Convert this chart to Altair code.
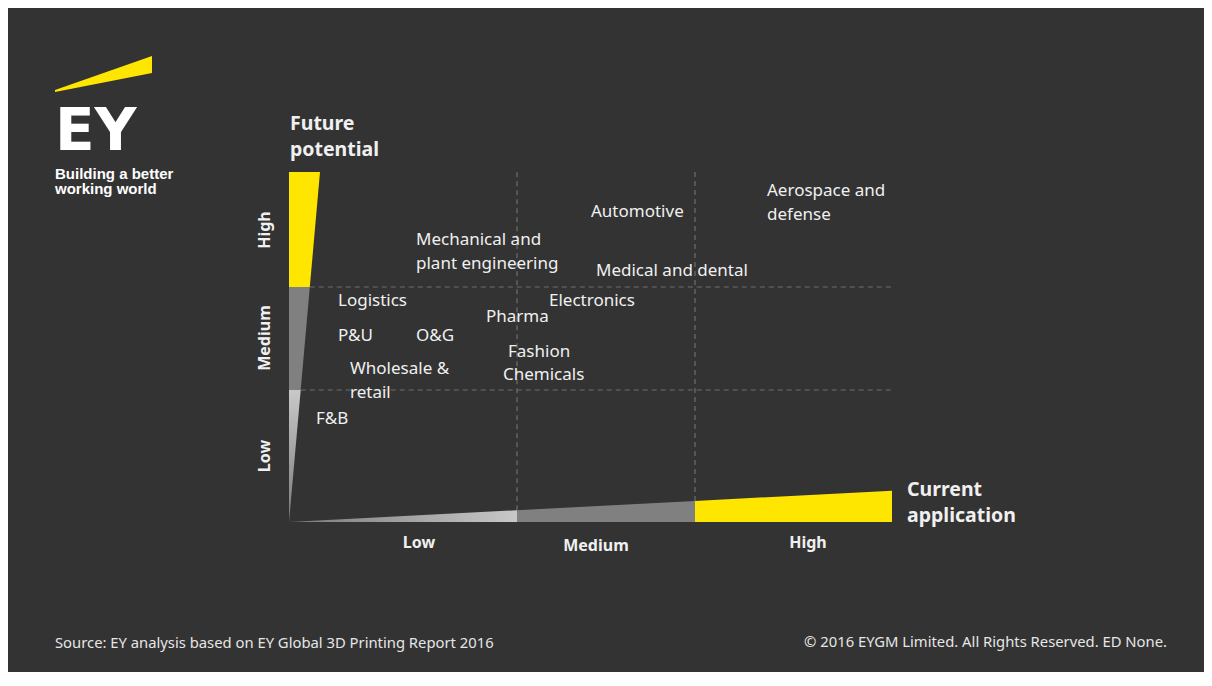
import altair as alt
import pandas as pd

BG = "#333333"
YELLOW = "#ffe600"
MID = "#808080"
LIGHT = "#c8c8c8"
TXT = "#f0f0f0"
FONT = "Noto Sans"

# Sector positions: x = current application, y = future potential (chart units, first text line)
sectors = ["Aerospace and\ndefense", "Automotive", "Mechanical and\nplant engineering",
           "Medical and dental", "Electronics", "Logistics", "Pharma", "P&U", "O&G",
           "Fashion", "Chemicals", "Wholesale &\nretail", "F&B"]
sector_x = [478, 302, 127, 307, 260, 49, 197, 49, 127, 219, 214, 61, 27]
sector_y = [331, 310, 282, 251, 221, 221, 205, 186, 186, 170, 147, 153, 103]

# Level bands and the wedge thickness at each band edge
levels = ["Low", "Medium", "High"]
x_breaks = [0, 228, 406, 603]
x_thick = [0, 11.8, 21.1, 31.3]
y_breaks = [0, 132, 235, 350]
y_thick = [0, 11.7, 20.8, 31]

x_level_x = [130, 307, 519]
x_level_y = [-21, -24, -21]
y_level_x = [-24, -24, -24]
y_level_y = [66, 184, 292]

titles = ["Future\npotential", "Current\napplication"]
title_x = [1, 618]
title_y = [398, 32]

# Logo beam and texts
beam_x = [-234, -137]
beam_y = [430, 449]
beam_y2 = [432, 466]
logo_texts = ["EY", "Building a better\nworking world"]
logo_x = [-234, -234]
logo_y = [372, 348]

source_text = "Source: EY analysis based on EY Global 3D Printing Report 2016"
copyright_text = "\u00a9 2016 EYGM Limited. All Rights Reserved. ED None."
footer_x = [-234, 878]
footer_y = [-122, -121]

XS = alt.Scale(domain=[-281, 915], nice=False, zero=False)
YS = alt.Scale(domain=[-150, 514], nice=False, zero=False)


def X(f="x"):
    return alt.X(f"{f}:Q", scale=XS, axis=None)


def Y(f="y"):
    return alt.Y(f"{f}:Q", scale=YS, axis=None)


layers = []

grad_x = alt.Gradient(gradient="linear", x1=0, x2=1, y1=0, y2=0,
                      stops=[alt.GradientStop(color="#7a7a7a", offset=0),
                             alt.GradientStop(color=LIGHT, offset=1)])
grad_y = alt.Gradient(gradient="linear", x1=0, x2=0, y1=1, y2=0,
                      stops=[alt.GradientStop(color="#7a7a7a", offset=0),
                             alt.GradientStop(color=LIGHT, offset=1)])
seg_colors_x = [grad_x, MID, YELLOW]
seg_colors_y = [grad_y, MID, YELLOW]

# gridlines
hdf = pd.DataFrame({"x": y_thick[1:3], "x2": [x_breaks[3]] * 2, "y": y_breaks[1:3]})
layers.append(alt.Chart(hdf).mark_rule(color="#6e6e6e", strokeWidth=1.2, strokeDash=[5, 4]).encode(
    x=X(), x2="x2:Q", y=Y()))
vdf = pd.DataFrame({"x": x_breaks[1:3], "y": x_thick[1:3], "y2": [y_breaks[3]] * 2})
layers.append(alt.Chart(vdf).mark_rule(color="#6e6e6e", strokeWidth=1.2, strokeDash=[5, 4]).encode(
    x=X(), y=Y(), y2="y2:Q"))

# wedges
for i in range(3):
    dfx = pd.DataFrame({"x": [x_breaks[i], x_breaks[i + 1]],
                        "y": [x_thick[i], x_thick[i + 1]], "y0": [0, 0]})
    layers.append(alt.Chart(dfx).mark_area(color=seg_colors_x[i]).encode(
        x=X(), y=Y(), y2="y0:Q"))
    dfy = pd.DataFrame({"y": [y_breaks[i], y_breaks[i + 1]],
                        "x": [y_thick[i], y_thick[i + 1]], "x0": [0, 0]})
    layers.append(alt.Chart(dfy).mark_area(color=seg_colors_y[i], orient="horizontal").encode(
        y=Y(), x=X(), x2="x0:Q"))

# sector labels
sdf = pd.DataFrame({"name": sectors, "x": sector_x, "y": sector_y})
layers.append(alt.Chart(sdf).mark_text(align="left", baseline="middle", lineBreak="\n",
                                       font=FONT, fontSize=17, lineHeight=24, color=TXT).encode(
    x=X(), y=Y(), text="name:N"))

# level labels
xl = pd.DataFrame({"t": levels, "x": x_level_x, "y": x_level_y})
layers.append(alt.Chart(xl).mark_text(align="center", baseline="middle", font=FONT,
                                      fontWeight="bold", fontSize=16, color=TXT).encode(
    x=X(), y=Y(), text="t:N"))
yl = pd.DataFrame({"t": levels, "x": y_level_x, "y": y_level_y})
layers.append(alt.Chart(yl).mark_text(align="center", baseline="middle", font=FONT, angle=270,
                                      fontWeight="bold", fontSize=16, color=TXT).encode(
    x=X(), y=Y(), text="t:N"))

# axis titles
tdf = pd.DataFrame({"t": titles, "x": title_x, "y": title_y})
layers.append(alt.Chart(tdf).mark_text(align="left", baseline="middle", lineBreak="\n", font=FONT,
                                       fontWeight="bold", fontSize=19.5, lineHeight=25.5, color=TXT).encode(
    x=X(), y=Y(), text="t:N"))

# logo
bdf = pd.DataFrame({"x": beam_x, "y": beam_y, "y2": beam_y2})
layers.append(alt.Chart(bdf).mark_area(color=YELLOW).encode(x=X(), y=Y(), y2="y2:Q"))
ldf1 = pd.DataFrame({"t": logo_texts[:1], "x": logo_x[:1], "y": logo_y[:1]})
layers.append(alt.Chart(ldf1).mark_text(align="left", baseline="alphabetic", font="DejaVu Sans",
                                        fontWeight="bold", fontSize=58, color="#ffffff").encode(
    x=X(), y=Y(), text="t:N"))
ldf2 = pd.DataFrame({"t": logo_texts[1:], "x": logo_x[1:], "y": logo_y[1:]})
layers.append(alt.Chart(ldf2).mark_text(align="left", baseline="middle", lineBreak="\n",
                                        font="Liberation Sans", fontWeight="bold", fontSize=15,
                                        lineHeight=15, color="#ffffff").encode(
    x=X(), y=Y(), text="t:N"))

# footer
fdf = pd.DataFrame({"t": [source_text, copyright_text], "x": footer_x, "y": footer_y})
layers.append(alt.Chart(fdf.iloc[:1]).mark_text(align="left", baseline="middle", font=FONT,
                                                fontSize=14.8, color="#e6e6e6").encode(
    x=X(), y=Y(), text="t:N"))
layers.append(alt.Chart(fdf.iloc[1:]).mark_text(align="right", baseline="middle", font=FONT,
                                                fontSize=14.8, color="#e6e6e6").encode(
    x=X(), y=Y(), text="t:N"))

chart = alt.layer(*layers).properties(
    width=1196, height=664, background=BG, padding=0,
    autosize=alt.AutoSizeParams(type="fit", contains="padding"),
).configure_view(stroke=None)

chart.save("out.html", embed_options={"renderer": "svg", "actions": False})
